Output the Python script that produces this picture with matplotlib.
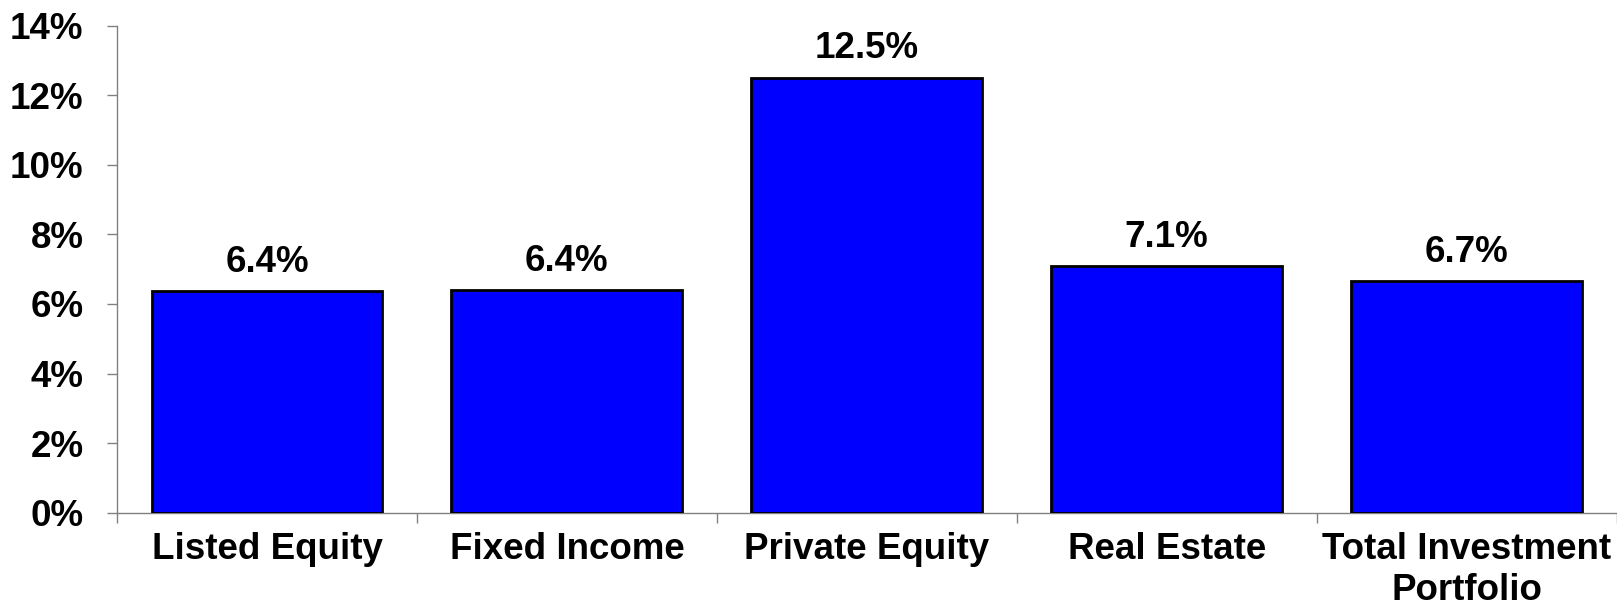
import matplotlib.pyplot as plt

categories = ["Listed Equity", "Fixed Income", "Private Equity", "Real Estate",
              "Total Investment\nPortfolio"]
returns = [6.38, 6.41, 12.51, 7.09, 6.66]
yticks = [0, 2, 4, 6, 8, 10, 12, 14]

plt.rcParams['font.family'] = ['Liberation Sans', 'DejaVu Sans']
plt.rcParams['font.weight'] = 'bold'

fig = plt.figure(figsize=(16.17, 6.03), dpi=100)
ax = fig.add_axes([0.0724, 0.1498, 0.9273, 0.8076])

x = list(range(len(categories)))
bars = ax.bar(x, returns, width=0.77, color="#0000FF", edgecolor="black", linewidth=2, zorder=3)

for xi, v in zip(x, returns):
    ax.annotate("%.1f%%" % v, (xi, v), xytext=(0, 8), textcoords="offset points",
                ha="center", va="bottom", fontsize=26.5, fontweight="bold")

ax.set_xlim(-0.5, len(categories) - 0.5)
ax.set_ylim(0, 14)
ax.set_yticks(yticks)
ax.set_yticklabels(["%d%%" % t for t in yticks])

# category labels centered, tick marks at boundaries
ax.set_xticks(x)
ax.set_xticklabels(categories, linespacing=1.22)
ax.tick_params(axis="x", which="major", length=0, pad=14, labelsize=26.5)
ax.set_xticks([i - 0.5 for i in range(len(categories) + 1)], minor=True)
ax.tick_params(axis="x", which="minor", length=7.2, width=1, color="#808080", direction="out")
ax.tick_params(axis="y", length=7.2, width=1, color="#808080", direction="out", pad=17, labelsize=26.5)

for s in ["top", "right"]:
    ax.spines[s].set_visible(False)
for s in ["left", "bottom"]:
    ax.spines[s].set_color("#808080")
    ax.spines[s].set_linewidth(1)

fig.savefig("out.png", dpi=100)
